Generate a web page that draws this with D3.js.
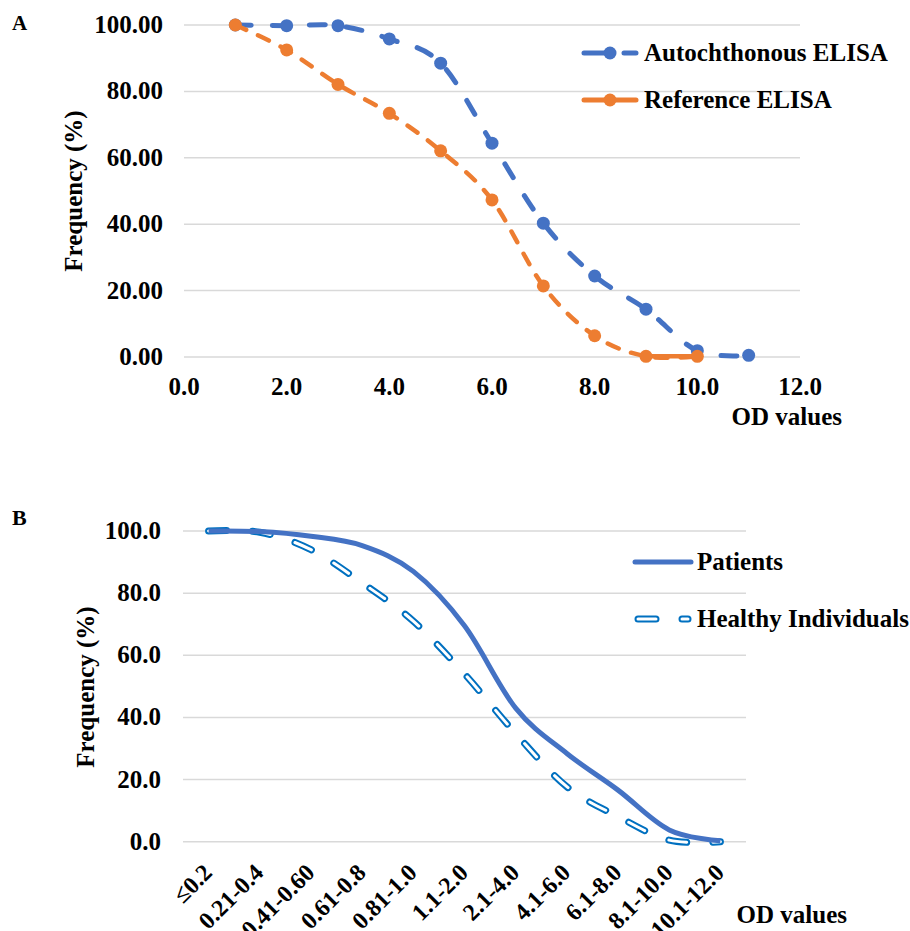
<!DOCTYPE html>
<html lang="en">
<head>
<meta charset="utf-8">
<title>OD value frequency curves</title>
<script src="https://cdn.jsdelivr.net/npm/d3@7"></script>
<style>
  body { margin: 0; background: #fff; }
  svg text { font-family: "Liberation Serif", "Times New Roman", serif; font-weight: bold; fill: #000; }
</style>
</head>
<body>
<script>
// ---- panel A data ----
var odA = [1, 2, 3, 4, 5, 6, 7, 8, 9, 10, 11];
var autochthonous = [100, 99.8, 99.8, 95.8, 88.5, 64.4, 40.3, 24.4, 14.4, 1.9, 0.5];
var reference = [100, 92.5, 82.1, 73.4, 62.1, 47.3, 21.4, 6.4, 0.2, 0.2];
var xTicksA = [0, 2, 4, 6, 8, 10, 12];
var yTicksA = [0, 20, 40, 60, 80, 100];

// ---- panel B data ----
var categoriesB = ["\u22640.2", "0.21-0.4", "0.41-0.60", "0.61-0.8", "0.81-1.0", "1.1-2.0",
                   "2.1-4.0", "4.1-6.0", "6.1-8.0", "8.1-10.0", "10.1-12.0"];
var patients = [100, 99.8, 98.3, 95.3, 87.0, 69.5, 43.0, 28.4, 16.6, 3.8, 0.3];
var healthy = [100, 99.6, 94.0, 83.3, 71.0, 54.0, 34.8, 17.7, 8.1, 0.5, 0];
var yTicksB = [0, 20, 40, 60, 80, 100];

var BLUE = "#4472C4", ORANGE = "#ED7D31", HEALTHY = "#0070C0", GRID = "#d9d9d9";
var FS = "25px";

var svg = d3.select("body").append("svg")
  .attr("width", 910)
  .attr("height", 931);

// Excel style smoothed line
var smooth = d3.curveCatmullRom.alpha(0);

/* ================= panel A ================= */
var xA = d3.scaleLinear().domain([0, 12]).range([184, 800]);
var yA = d3.scaleLinear().domain([0, 100]).range([357, 25]);
var gA = svg.append("g");

gA.append("text").attr("x", 12).attr("y", 30).style("font-size", "21px").text("A");

// gridlines
gA.selectAll(".gridA").data(yTicksA).enter().append("line")
  .attr("x1", xA(0)).attr("x2", xA(12))
  .attr("y1", d => yA(d)).attr("y2", d => yA(d))
  .attr("stroke", GRID).attr("stroke-width", 1.5);

gA.selectAll(".ytA").data(yTicksA).enter().append("text")
  .attr("x", 163).attr("y", d => yA(d) + 8)
  .attr("text-anchor", "end").style("font-size", FS)
  .text(d3.format(".2f"));

gA.selectAll(".xtA").data(xTicksA).enter().append("text")
  .attr("x", d => xA(d)).attr("y", 395)
  .attr("text-anchor", "middle").style("font-size", FS)
  .text(d3.format(".1f"));

gA.append("text").attr("x", 842).attr("y", 425).attr("text-anchor", "end")
  .style("font-size", FS).text("OD values");
gA.append("text").attr("transform", "translate(82,191) rotate(-90)")
  .attr("text-anchor", "middle").style("font-size", FS).text("Frequency (%)");

var lineA = d3.line().x(d => xA(d[0])).y(d => yA(d[1])).curve(smooth);
var ptsAuto = odA.map((x, i) => [x, autochthonous[i]]);
var ptsRef = reference.map((v, i) => [odA[i], v]);

gA.append("path").datum(ptsAuto).attr("d", lineA)
  .attr("fill", "none").attr("stroke", BLUE).attr("stroke-width", 5)
  .attr("stroke-linecap", "round").attr("stroke-dasharray", "16,21");
gA.selectAll(".mAuto").data(ptsAuto).enter().append("circle")
  .attr("cx", d => xA(d[0])).attr("cy", d => yA(d[1])).attr("r", 6.5).attr("fill", BLUE);

gA.append("path").datum(ptsRef).attr("d", lineA)
  .attr("fill", "none").attr("stroke", ORANGE).attr("stroke-width", 4.5)
  .attr("stroke-linecap", "round").attr("stroke-dasharray", "12,13");
// last segment of the reference series is solid
gA.append("path").datum(ptsRef.slice(-2)).attr("d", d3.line().x(d => xA(d[0])).y(d => yA(d[1])))
  .attr("fill", "none").attr("stroke", ORANGE).attr("stroke-width", 4.5);
gA.selectAll(".mRef").data(ptsRef).enter().append("circle")
  .attr("cx", d => xA(d[0])).attr("cy", d => yA(d[1])).attr("r", 6.5).attr("fill", ORANGE);

// legend A
var legA = [
  {name: "Autochthonous ELISA", color: BLUE, dash: "15,22", y: 53},
  {name: "Reference ELISA", color: ORANGE, dash: null, y: 100}
];
legA.forEach(function(l) {
  gA.append("line").attr("x1", 584).attr("x2", 636).attr("y1", l.y).attr("y2", l.y)
    .attr("stroke", l.color).attr("stroke-width", 5).attr("stroke-linecap", "round")
    .attr("stroke-dasharray", l.dash ? "28,12" : null);
  gA.append("circle").attr("cx", 610).attr("cy", l.y).attr("r", 6.5).attr("fill", l.color);
  gA.append("text").attr("x", 644).attr("y", l.y + 8).style("font-size", FS).text(l.name);
});

/* ================= panel B ================= */
var xB = d3.scalePoint().domain(categoriesB).range([183, 746]).padding(0.5);
var yB = d3.scaleLinear().domain([0, 100]).range([841.7, 531]);
var gB = svg.append("g");

gB.append("text").attr("x", 12).attr("y", 525).style("font-size", "22px").text("B");

gB.selectAll(".gridB").data(yTicksB).enter().append("line")
  .attr("x1", 183).attr("x2", 746)
  .attr("y1", d => yB(d)).attr("y2", d => yB(d))
  .attr("stroke", GRID).attr("stroke-width", 1.5);

gB.selectAll(".ytB").data(yTicksB).enter().append("text")
  .attr("x", 161).attr("y", d => yB(d) + 8)
  .attr("text-anchor", "end").style("font-size", FS)
  .text(d3.format(".1f"));

gB.selectAll(".xtB").data(categoriesB).enter().append("text")
  .attr("transform", d => "translate(" + (xB(d) + 5) + ",874) rotate(-45)")
  .attr("text-anchor", "end").style("font-size", "24px")
  .text(d => d);

gB.append("text").attr("x", 847).attr("y", 923).attr("text-anchor", "end")
  .style("font-size", FS).text("OD values");
gB.append("text").attr("transform", "translate(94,687) rotate(-90)")
  .attr("text-anchor", "middle").style("font-size", FS).text("Frequency (%)");

var lineB = d3.line().x((d, i) => xB(categoriesB[i])).y(d => yB(d)).curve(smooth);

// healthy: outlined dashes (blue outer stroke, white core)
gB.append("path").datum(healthy).attr("d", lineB)
  .attr("fill", "none").attr("stroke", HEALTHY).attr("stroke-width", 7)
  .attr("stroke-linecap", "round").attr("stroke-dasharray", "18,26");
gB.append("path").datum(healthy).attr("d", lineB)
  .attr("fill", "none").attr("stroke", "#fff").attr("stroke-width", 3)
  .attr("stroke-linecap", "round").attr("stroke-dasharray", "18,26");

gB.append("path").datum(patients).attr("d", lineB)
  .attr("fill", "none").attr("stroke", BLUE).attr("stroke-width", 5);

// legend B
gB.append("line").attr("x1", 635).attr("x2", 691).attr("y1", 562).attr("y2", 562)
  .attr("stroke", BLUE).attr("stroke-width", 5).attr("stroke-linecap", "round");
gB.append("text").attr("x", 697).attr("y", 570).style("font-size", FS).text("Patients");
[[HEALTHY, 7], ["#fff", 3]].forEach(function(s) {
  gB.append("line").attr("x1", 638).attr("x2", 688).attr("y1", 619).attr("y2", 619)
    .attr("stroke", s[0]).attr("stroke-width", s[1]).attr("stroke-linecap", "round")
    .attr("stroke-dasharray", "18,26");
});
gB.append("text").attr("x", 697).attr("y", 627).style("font-size", FS).text("Healthy Individuals");
</script>
</body>
</html>
